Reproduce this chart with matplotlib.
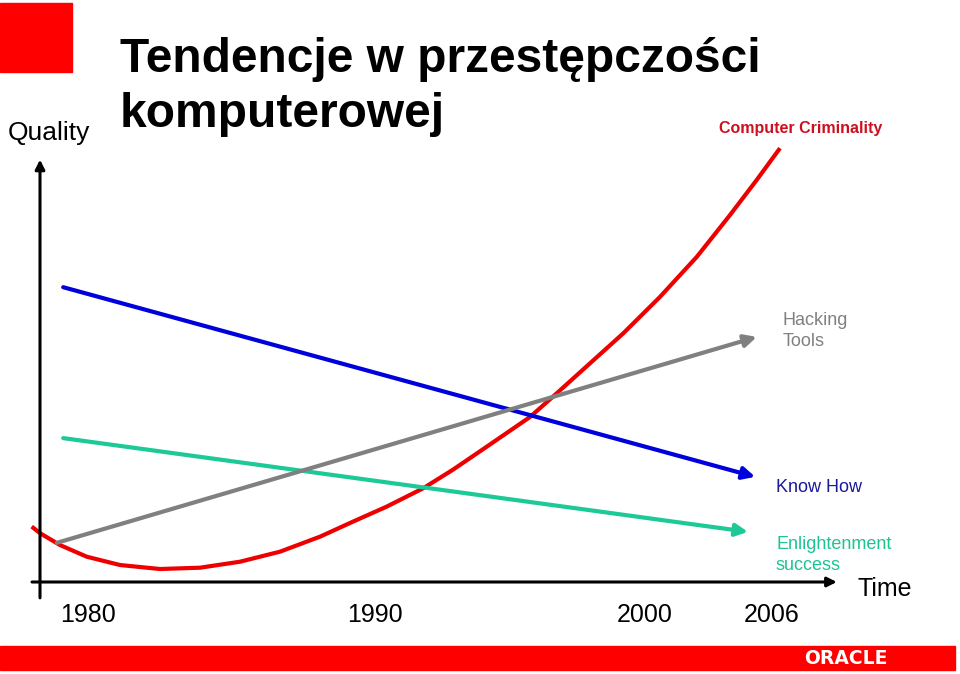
import matplotlib
matplotlib.use('Agg')
from matplotlib import pyplot as plt
from matplotlib.patches import Rectangle

plt.rcParams['font.family'] = ['Liberation Sans', 'DejaVu Sans']

# time runs 0..100 along the arrow, quality 0..100 up the arrow
years = ['1980', '1990', '2000', '2006']
year_pos = [6, 41.9, 75.6, 91.5]

know_how_x = [2.9, 89.4]
know_how_y = [67.0, 23.9]
enlight_x = [2.9, 88.5]
enlight_y = [32.7, 11.4]
hacking_x = [2.1, 89.6]
hacking_y = [8.9, 55.7]

crime_x = [-1.04, 0, 2.5, 5.84, 10, 15, 20, 25, 30, 35, 39.1, 43.3, 47.9, 51.6,
           55.4, 61.25, 64.6, 68.75, 72.9, 77.5, 82.1, 86.25, 89.6, 92.5]
crime_y = [12.6, 11.1, 8.4, 5.75, 3.86, 2.95, 3.25, 4.61, 6.89, 10.3, 13.7, 17.1, 21.3, 25.5,
           30.2, 37.5, 42.9, 49.7, 56.5, 64.8, 73.9, 83.4, 91.4, 98.6]

W, H = 960, 674
fig = plt.figure(figsize=(9.6, 6.74), dpi=100)

def fx(px):
    return px / W

def fy(py):
    return 1 - py / H

# decorations of the slide
fig.patches.append(Rectangle((0, fy(72)), fx(72), 69 / H, transform=fig.transFigure,
                             color='#ff0000', zorder=0))
fig.patches.append(Rectangle((0, fy(670)), fx(955), 24 / H, transform=fig.transFigure,
                             color='#ff0000', zorder=0))
fig.text(fx(846), fy(658), 'ORACLE', color='white', fontsize=13.5, fontweight='bold',
         family='DejaVu Sans', ha='center', va='center')

fig.text(fx(120), fy(72), 'Tendencje w przestępczości', fontsize=34.5, fontweight='bold',
         ha='left', va='baseline')
fig.text(fx(120), fy(127), 'komputerowej', fontsize=34.5, fontweight='bold',
         ha='left', va='baseline')
fig.text(fx(8), fy(133), 'Quality', fontsize=19, ha='left', va='center')
fig.text(fx(857), fy(589), 'Time', fontsize=18, ha='left', va='center')

ax = fig.add_axes([fx(40), fy(582), fx(800), 440 / H])
ax.set_xlim(0, 100)
ax.set_ylim(0, 100)
for s in ax.spines.values():
    s.set_visible(False)
ax.set_yticks([])
ax.set_xticks(year_pos)
ax.set_xticklabels(years)
ax.tick_params(axis='x', length=0, pad=15, labelsize=18)
ax.patch.set_alpha(0)

# axes arrows
ax.annotate('', xy=(99.6, 0), xytext=(-1, 0), annotation_clip=False,
            arrowprops=dict(arrowstyle='-|>', color='black', lw=2.2,
                            mutation_scale=14, shrinkA=0, shrinkB=0))
ax.annotate('', xy=(0, 96.0), xytext=(0, -3.6), annotation_clip=False,
            arrowprops=dict(arrowstyle='-|>', color='black', lw=2.2,
                            mutation_scale=14, shrinkA=0, shrinkB=0))

def trend(xs, ys, c):
    ax.annotate('', xy=(xs[1], ys[1]), xytext=(xs[0], ys[0]), annotation_clip=False,
                arrowprops=dict(arrowstyle='-|>', color=c, lw=3,
                                mutation_scale=18, shrinkA=0, shrinkB=0))

trend(know_how_x, know_how_y, '#0000dd')
trend(enlight_x, enlight_y, '#1ec998')
trend(hacking_x, hacking_y, '#808080')
ax.plot(crime_x, crime_y, color='#ee0000', lw=3, clip_on=False,
        solid_capstyle='butt', solid_joinstyle='round')

fig.text(fx(719), fy(128), 'Computer Criminality', fontsize=11.5, fontweight='bold',
         color='#cc1020', ha='left', va='center')
fig.text(fx(783), fy(331), 'Hacking\nTools', fontsize=13, color='#808080',
         ha='left', va='center', linespacing=1.3)
fig.text(fx(776), fy(488), 'Know How', fontsize=13, color='#1a1a9a',
         ha='left', va='center')
fig.text(fx(776), fy(555), 'Enlightenment\nsuccess', fontsize=13, color='#1ec393',
         ha='left', va='center', linespacing=1.3)

plt.savefig('out.png', dpi=100)
